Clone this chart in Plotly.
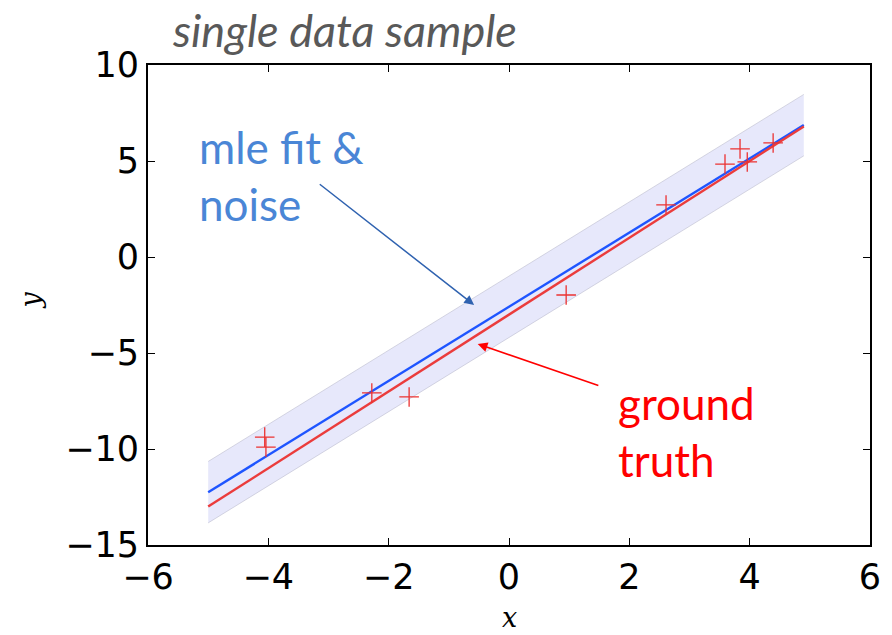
import plotly.graph_objects as go

# ---- data ----
x_pts = [-4.06, -4.04, -2.28, -1.66, 0.95, 2.61, 3.59, 3.84, 3.96, 4.39]
y_pts = [-9.38, -9.90, -7.08, -7.29, -1.98, 2.71, 4.84, 5.63, 4.95, 5.94]

x_line = [-5.0, 4.9]
y_truth = [-13.0, 6.8]
y_fit = [-12.25, 6.87]
y_band_upper = [-10.65, 8.47]
y_band_lower = [-13.85, 5.27]

x_ticks = [-6, -4, -2, 0, 2, 4, 6]
y_ticks = [-15, -10, -5, 0, 5, 10]

fig = go.Figure()

# noise band
fig.add_trace(go.Scatter(x=x_line, y=y_band_upper, mode="lines",
                         line=dict(color="rgba(170,170,190,0.45)", width=1),
                         hoverinfo="skip", showlegend=False))
fig.add_trace(go.Scatter(x=x_line, y=y_band_lower, mode="lines",
                         line=dict(color="rgba(170,170,190,0.45)", width=1),
                         fill="tonexty", fillcolor="rgba(40,50,220,0.11)",
                         hoverinfo="skip", showlegend=False))
# mle fit
fig.add_trace(go.Scatter(x=x_line, y=y_fit, mode="lines",
                         line=dict(color="rgb(30,85,255)", width=2.4),
                         showlegend=False))
# ground truth
fig.add_trace(go.Scatter(x=x_line, y=y_truth, mode="lines",
                         line=dict(color="rgb(235,60,60)", width=2.4),
                         showlegend=False))
# samples
fig.add_trace(go.Scatter(x=x_pts, y=y_pts, mode="markers",
                         marker=dict(symbol="cross-thin-open", size=14,
                                     color="rgb(235,50,50)",
                                     line=dict(color="rgb(235,50,50)", width=1.3)),
                         showlegend=False))

axis_common = dict(
    showgrid=False, zeroline=False,
    showline=True, linecolor="black", linewidth=2, mirror="ticks",
    ticks="inside", ticklen=7, tickwidth=1.2, tickcolor="black",
    tickfont=dict(family="DejaVu Sans", size=35, color="black"),
)

fig.update_xaxes(range=[-6, 6], tickvals=x_ticks, **axis_common)
fig.update_yaxes(range=[-15, 10], tickvals=y_ticks, **axis_common)

annotations = [
    # title
    dict(text="<i>single data sample</i>", xref="paper", yref="paper",
         x=0.2715, y=1.073, xanchor="center", yanchor="middle", showarrow=False,
         font=dict(family="Lato", size=45, color="#595959")),
    # axis labels
    dict(text="<i>x</i>", xref="paper", yref="paper", x=0.5, y=-0.152,
         xanchor="center", yanchor="middle", showarrow=False,
         font=dict(family="DejaVu Serif", size=27, color="black")),
    dict(text="<i>y</i>", xref="paper", yref="paper", x=-0.163, y=0.51,
         xanchor="center", yanchor="middle", showarrow=False, textangle=-90,
         font=dict(family="DejaVu Serif", size=27, color="black")),
    # labels
    dict(text="mle fit &amp;<br>noise", xref="x", yref="y", x=-5.18, y=4.27,
         xanchor="left", yanchor="middle", align="left", showarrow=False,
         font=dict(family="Lato", size=44, color="#4A86D6")),
    dict(text="ground<br>truth", xref="x", yref="y", x=1.78, y=-9.11,
         xanchor="left", yanchor="middle", align="left", showarrow=False,
         font=dict(family="Lato", size=44, color="#FF0000")),
    # arrows
    dict(text="", xref="x", yref="y", axref="x", ayref="y",
         x=-0.58, y=-2.5, ax=-3.17, ay=3.85, showarrow=True,
         arrowhead=2, arrowsize=1.3, arrowwidth=1.5, arrowcolor="#2F62B0"),
    dict(text="", xref="x", yref="y", axref="x", ayref="y",
         x=-0.52, y=-4.53, ax=1.51, ay=-6.72, showarrow=True,
         arrowhead=2, arrowsize=1.3, arrowwidth=1.5, arrowcolor="#FF0000"),
]

fig.update_layout(
    width=892, height=635,
    margin=dict(l=148, r=22, t=65, b=90),
    paper_bgcolor="white", plot_bgcolor="white",
    annotations=annotations,
    showlegend=False,
)

fig.write_html("out.html")
